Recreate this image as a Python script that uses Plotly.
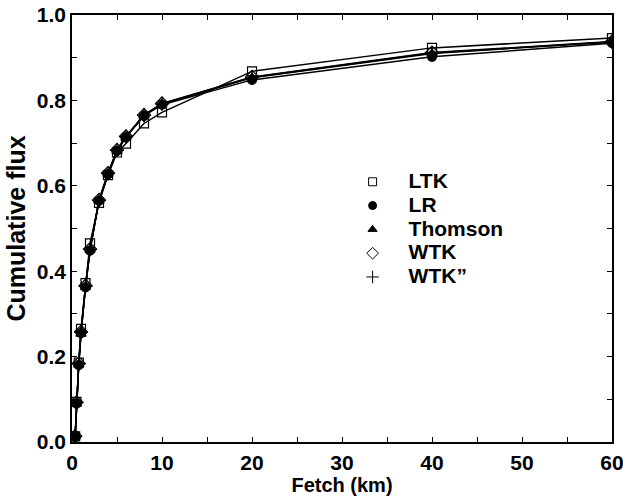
import plotly.graph_objects as go

# Fetch distances (km) and cumulative flux for each model
fetch = [0.35, 0.5, 0.75, 1.0, 1.5, 2, 3, 4, 5, 6, 8, 10, 20, 40, 60]
ltk = [0.013, 0.094, 0.186, 0.265, 0.372, 0.465, 0.560, 0.625, 0.678, 0.699, 0.746, 0.772, 0.868, 0.923, 0.946]
lr = [0.012, 0.090, 0.180, 0.255, 0.362, 0.448, 0.565, 0.627, 0.682, 0.714, 0.764, 0.790, 0.848, 0.902, 0.934]
thomson = [0.013, 0.092, 0.182, 0.253, 0.363, 0.450, 0.566, 0.628, 0.682, 0.714, 0.765, 0.792, 0.853, 0.910, 0.937]
wtk = [0.014, 0.093, 0.184, 0.258, 0.366, 0.452, 0.567, 0.630, 0.684, 0.716, 0.766, 0.793, 0.855, 0.912, 0.938]
wtk2 = [0.013, 0.093, 0.183, 0.257, 0.365, 0.451, 0.566, 0.629, 0.683, 0.715, 0.765, 0.792, 0.854, 0.911, 0.937]

names = ["LTK", "LR", "Thomson", "WTK", "WTK\u201d"]
series = [ltk, lr, thomson, wtk, wtk2]
symbols = ["square-open", "circle", "triangle-up", "diamond-open", "cross-thin-open"]
sizes = [9, 9, 9, 10, 10]

fig = go.Figure()
for name, ys, sym, sz in zip(names, series, symbols, sizes):
    fig.add_trace(go.Scatter(
        x=fetch, y=ys, mode="lines+markers", showlegend=False,
        line=dict(color="black", width=1.5),
        marker=dict(symbol=sym, size=sz, color="black",
                    line=dict(color="black", width=1.2)),
    ))
# legend entries show only the marker symbol
for name, sym, sz in zip(names, symbols, sizes):
    fig.add_trace(go.Scatter(
        x=[None], y=[None], mode="markers",
        name=f'<span style="font-size:21px">{name}</span>',
        marker=dict(symbol=sym, size=sz - 1, color="black",
                    line=dict(color="black", width=1)),
    ))

font_b = dict(family="Liberation Sans, Arial, sans-serif", color="black", weight="bold")

axis_common = dict(
    showgrid=False, zeroline=False, showline=True, linecolor="black", linewidth=1.5,
    mirror="ticks", ticks="inside", ticklen=5, tickwidth=1, tickcolor="black",
    tickfont=dict(size=21, **font_b), automargin=False, ticklabeloverflow="allow",
)

fig.update_xaxes(
    range=[0, 60], dtick=10, tick0=0, ticklabelstandoff=1,
    minor=dict(dtick=5, ticks="inside", ticklen=5, tickcolor="black"),
    title=dict(text="Fetch (km)", font=dict(size=20, **font_b), standoff=2),
    **axis_common,
)
fig.update_yaxes(
    range=[0, 1.0], dtick=0.2, tick0=0, tickformat=".1f",
    minor=dict(dtick=0.1, ticks="inside", ticklen=5, tickcolor="black"),
    title=dict(text="Cumulative flux", font=dict(size=25, **font_b), standoff=4),
    **axis_common,
)

fig.update_layout(
    width=623, height=498,
    margin=dict(l=72, r=11, t=15, b=56),
    paper_bgcolor="white", plot_bgcolor="white",
    legend=dict(
        x=0.49, y=0.649, xanchor="left", yanchor="top",
        bgcolor="rgba(0,0,0,0)", borderwidth=0,
        font=dict(size=16, **font_b), itemwidth=62,
    ),
)

fig.write_html("out.html")
